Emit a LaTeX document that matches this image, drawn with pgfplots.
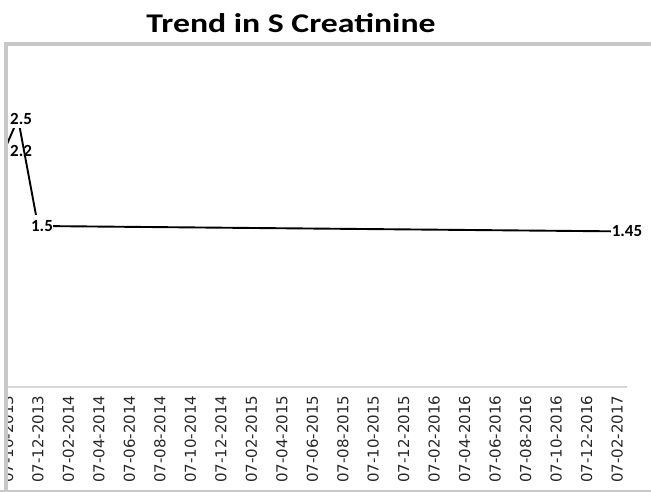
\documentclass[border=0pt]{standalone}
\usepackage{pgfplots}
\pgfplotsset{compat=1.18}
\usepackage{fontspec}
\setmainfont{Carlito}
\newfontfamily\tickfont{DejaVu Sans}
\definecolor{framegray}{RGB}{200,200,200}
\definecolor{axisgray}{RGB}{215,215,215}
\begin{document}
\begin{tikzpicture}
\clip (0pt,0pt) rectangle (651pt,492pt);
\node[font=\bfseries\fontsize{27}{32}\selectfont, xscale=1.25] at (291pt,469pt) {Trend in S Creatinine};
\begin{axis}[
  at={(4.5pt,105pt)}, anchor=south west,
  scale only axis, width=622.5pt, height=322pt,
  xmin=-0.2, xmax=40.65, ymin=0, ymax=3,
  axis x line=bottom, axis y line=none,
  x axis line style={axisgray, line width=1.5pt, -},
  xtick={0,2,...,40},
  xticklabels={07-10-2013,07-12-2013,07-02-2014,07-04-2014,07-06-2014,07-08-2014,07-10-2014,07-12-2014,07-02-2015,07-04-2015,07-06-2015,07-08-2015,07-10-2015,07-12-2015,07-02-2016,07-04-2016,07-06-2016,07-08-2016,07-10-2016,07-12-2016,07-02-2017},
  xticklabel style={yshift=-5pt, rotate=90, anchor=east, font=\tickfont\fontsize{15}{17}\selectfont, text=black!85},
  major tick length=0pt,
  clip=false,
]
\node[font=\bfseries\fontsize{17}{20}\selectfont, inner sep=0.5pt] at (axis cs:0.886,2.2) {2.2};
\addplot[black, line width=1.9pt, mark=none] coordinates {(-0.23,2.2) (0.69,2.5) (2,1.5) (40,1.45)};
\node[font=\bfseries\fontsize{17}{20}\selectfont, fill=white, inner xsep=1pt, inner ysep=3.5pt] at (axis cs:0.886,2.5) {2.5};
\node[font=\bfseries\fontsize{17}{20}\selectfont, fill=white, inner xsep=0.5pt, inner ysep=5pt] at (axis cs:2.26,1.5) {1.5};
\node[font=\bfseries\fontsize{17}{20}\selectfont, fill=white, inner sep=0.5pt] at (axis cs:40.65,1.45) {1.45};
\end{axis}
\fill[white] (0pt,0pt) rectangle (5pt,447pt);
\draw[framegray, line width=4pt] (6pt,-5pt) -- (6pt,447.5pt) -- (660pt,447.5pt);
\draw[framegray, line width=2pt] (0pt,1pt) -- (660pt,1pt);
\end{tikzpicture}
\end{document}
